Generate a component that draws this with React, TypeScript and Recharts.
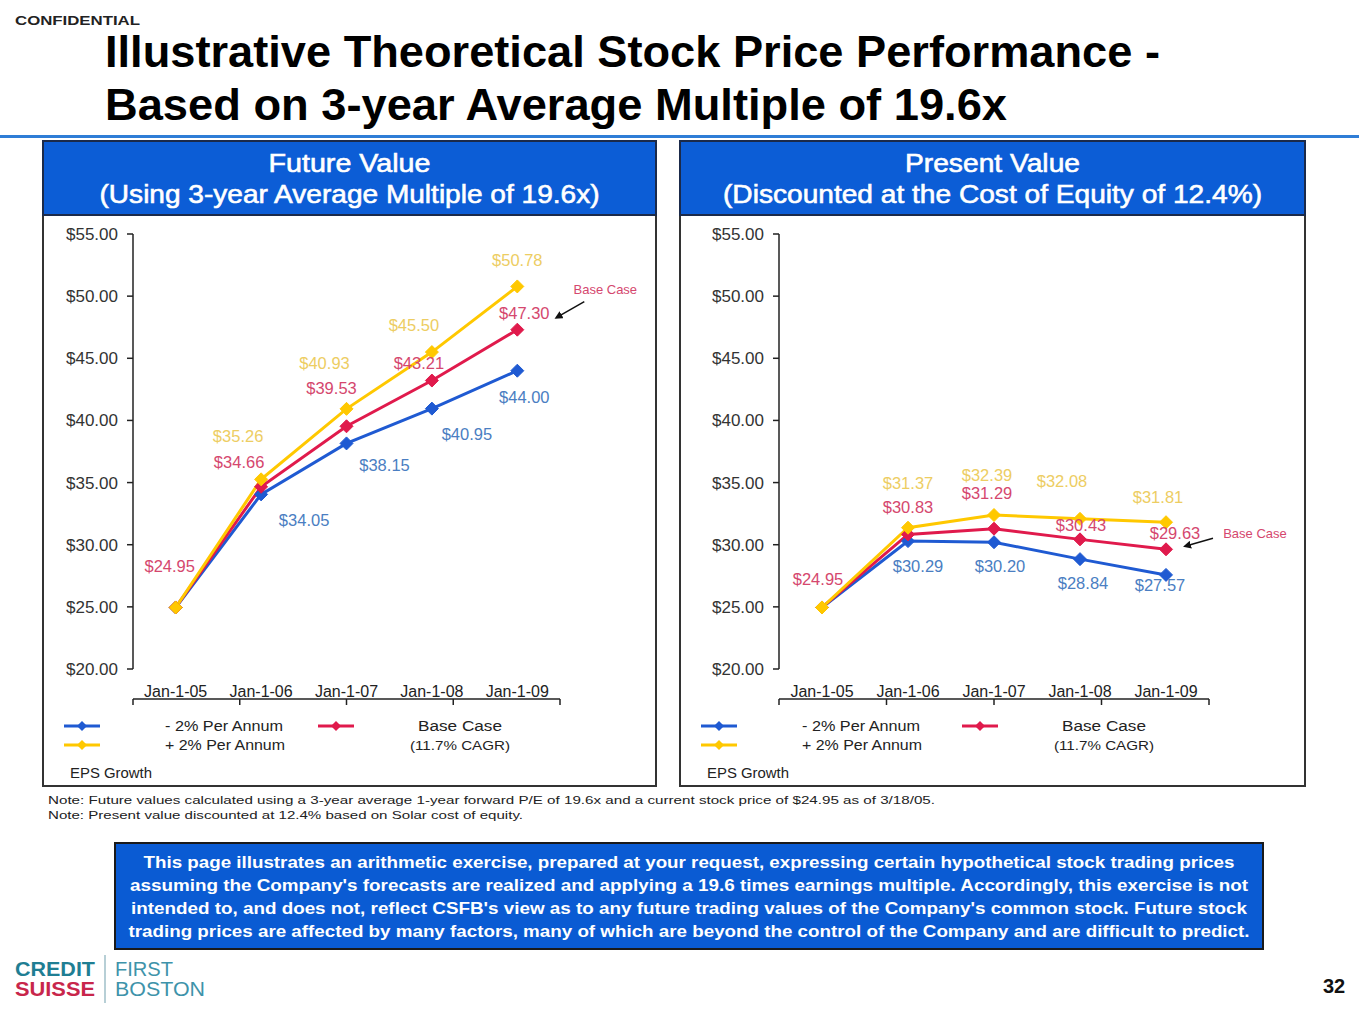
import React from 'react';
import { LineChart, Line, XAxis, YAxis, LabelList } from 'recharts';

// ---------------- DATA ----------------
const categories = ['Jan-1-05', 'Jan-1-06', 'Jan-1-07', 'Jan-1-08', 'Jan-1-09'];
// Future value (3-yr avg multiple 19.6x)
const fvMinus2 = [24.95, 34.05, 38.15, 40.95, 44.0];
const fvBase = [24.95, 34.66, 39.53, 43.21, 47.3];
const fvPlus2 = [24.95, 35.26, 40.93, 45.5, 50.78];
// Present value (discounted at 12.4%)
const pvMinus2 = [24.95, 30.29, 30.2, 28.84, 27.57];
const pvBase = [24.95, 30.83, 31.29, 30.43, 29.63];
const pvPlus2 = [24.95, 31.37, 32.39, 32.08, 31.81];
const yTicks = [20, 25, 30, 35, 40, 45, 50, 55];
const bandEdges = [0, 1, 2, 3, 4, 5];
const seriesLabels = ['- 2% Per Annum', '+ 2% Per Annum', 'Base Case', '(11.7% CAGR)'];

// ---------------- STYLE ----------------
const FONT = '"Liberation Sans", Arial, Helvetica, sans-serif';
const BLUE = '#1F5AD2';
const RED = '#E01A4C';
const YELLOW = '#FFC800';
const BLUE_T = '#4A7EC2';
const RED_T = '#D5476E';
const YELLOW_T = '#EDCD62';
const HEADER = '#0C5DD6';

type Off = [number, number] | null;
const fvOff: Record<string, Off[]> = {
  minus: [null, [43, 26], [38, 22], [35, 25], [7, 26]],
  base: [[-6, -41], [-22, -25], [-15, -38], [-13, -18], [7, -17]],
  plus: [null, [-23, -43], [-22, -46], [-18, -27], [0, -26]],
};
const pvOff: Record<string, Off[]> = {
  minus: [null, [10, 25], [6, 24], [3, 24], [-6, 10]],
  base: [[-4, -28], [0, -27], [-7, -36], [1, -14], [9, -16]],
  plus: [null, [0, -45], [-7, -40], [-18, -38], [-8, -25]],
};
// Base Case annotation relative to the last base-case point
const fvAnnot = { text: [88, -40], from: [67, -28], to: [39, -12] };
const pvAnnot = { text: [89, -16], from: [47, -11], to: [19, -3] };

const buildData = (m: number[], b: number[], p: number[]) =>
  categories.map((c, i) => ({ date: c, minus: m[i], base: b[i], plus: p[i] }));

const fvData = buildData(fvMinus2, fvBase, fvPlus2);
const pvData = buildData(pvMinus2, pvBase, pvPlus2);

const diamond = (color: string, r = 6.5) => (p: any) => {
  const { cx, cy } = p;
  if (cx == null || cy == null) return <g key={p.key ?? p.index} />;
  return (
    <path
      key={p.key ?? `d-${p.index}`}
      d={`M${cx},${cy - r} L${cx + r},${cy} L${cx},${cy + r} L${cx - r},${cy} Z`}
      fill={color}
      stroke={color}
      strokeWidth={1}
    />
  );
};

const makeLabel =
  (offsets: Off[], color: string, annot?: { text: number[]; from: number[]; to: number[] }) =>
  (props: any) => {
    const vb = props.viewBox || {};
    const x = props.x ?? vb.x;
    const y = props.y ?? vb.y;
    const index = props.index;
    const value = Number(props.value);
    const off = offsets[index];
    if (x == null || y == null) return null;
    return (
      <g key={`lbl-${index}`}>
        {off && (
          <text
            x={x + off[0]}
            y={y + off[1]}
            textAnchor="middle"
            dominantBaseline="central"
            fill={color}
            fontSize={16.5}
            fontFamily={FONT}
          >
            {`$${value.toFixed(2)}`}
          </text>
        )}
        {annot && index === offsets.length - 1 && (
          <g>
            <text
              x={x + annot.text[0]}
              y={y + annot.text[1]}
              textAnchor="middle"
              dominantBaseline="central"
              fill={RED_T}
              fontSize={13}
              fontFamily={FONT}
            >
              Base Case
            </text>
            <line
              x1={x + annot.from[0]}
              y1={y + annot.from[1]}
              x2={x + annot.to[0]}
              y2={y + annot.to[1]}
              stroke="#111"
              strokeWidth={1.5}
              markerEnd="url(#arrowHead)"
            />
          </g>
        )}
      </g>
    );
  };

const Chart = ({
  data,
  offsets,
  annot,
  width,
  yWidth,
}: {
  data: any[];
  offsets: Record<string, Off[]>;
  annot: any;
  width: number;
  yWidth: number;
}) => (
  <LineChart width={width} height={571} data={data} margin={{ top: 19, right: 96, bottom: 86, left: 0 }}>
    <defs>
      <marker id="arrowHead" markerWidth="8" markerHeight="8" refX="6" refY="4" orient="auto" markerUnits="userSpaceOnUse">
        <path d="M0,0 L8,4 L0,8 Z" fill="#111" />
      </marker>
    </defs>
    <XAxis
      xAxisId="edges"
      type="number"
      domain={[0, 5]}
      ticks={bandEdges}
      allowDataOverflow
      height={1}
      interval={0}
      tickSize={6}
      tickFormatter={() => ''}
      axisLine={{ stroke: '#222', strokeWidth: 1.5 }}
      tickLine={{ stroke: '#222', strokeWidth: 1.5 }}
    />
    <XAxis
      xAxisId="cat"
      dataKey="date"
      scale="band"
      height={30}
      interval={0}
      axisLine={false}
      tickLine={false}
      tickSize={6}
      tickMargin={11}
      tick={{ fontSize: 16, fill: '#222', fontFamily: FONT }}
    />
    <YAxis
      domain={[20, 55]}
      ticks={yTicks}
      interval={0}
      width={yWidth}
      tickSize={6}
      tickMargin={9}
      tickFormatter={(v: number) => `$${v.toFixed(2)}`}
      tick={{ fontSize: 17, fill: '#333', fontFamily: FONT }}
      axisLine={{ stroke: '#222', strokeWidth: 1.5 }}
      tickLine={{ stroke: '#222', strokeWidth: 1.5 }}
    />
    <Line xAxisId="cat" dataKey="minus" stroke={BLUE} strokeWidth={3} dot={diamond(BLUE)} isAnimationActive={false}>
      <LabelList dataKey="minus" content={makeLabel(offsets.minus, BLUE_T)} />
    </Line>
    <Line xAxisId="cat" dataKey="base" stroke={RED} strokeWidth={3} dot={diamond(RED)} isAnimationActive={false}>
      <LabelList dataKey="base" content={makeLabel(offsets.base, RED_T, annot)} />
    </Line>
    <Line xAxisId="cat" dataKey="plus" stroke={YELLOW} strokeWidth={3} dot={diamond(YELLOW)} isAnimationActive={false}>
      <LabelList dataKey="plus" content={makeLabel(offsets.plus, YELLOW_T)} />
    </Line>
  </LineChart>
);

const LegendIcon = ({ x, y, color }: { x: number; y: number; color: string }) => (
  <g>
    <line x1={x} y1={y} x2={x + 36} y2={y} stroke={color} strokeWidth={3} />
    <path d={`M${x + 18},${y - 5} L${x + 23},${y} L${x + 18},${y + 5} L${x + 13},${y} Z`} fill={color} />
  </g>
);

const PanelLegend = ({ ox, textX, redX, baseX }: { ox: number; textX: number; redX: number; baseX: number }) => (
  <g fontFamily={FONT} fill="#222">
    <LegendIcon x={ox + 21} y={726} color={BLUE} />
    <LegendIcon x={ox + 21} y={745} color={YELLOW} />
    <text x={textX} y={731} fontSize={15.5} textLength={118} lengthAdjust="spacingAndGlyphs">{seriesLabels[0]}</text>
    <text x={textX} y={750} fontSize={15.5} textLength={120} lengthAdjust="spacingAndGlyphs">{seriesLabels[1]}</text>
    <LegendIcon x={redX} y={726} color={RED} />
    <text x={baseX} y={731} fontSize={15.5} textAnchor="middle" textLength={84} lengthAdjust="spacingAndGlyphs">{seriesLabels[2]}</text>
    <text x={baseX} y={750} fontSize={13.5} textAnchor="middle" textLength={100} lengthAdjust="spacingAndGlyphs">{seriesLabels[3]}</text>
    <text x={ox + 27} y={778} fontSize={14} textLength={82} lengthAdjust="spacingAndGlyphs">EPS Growth</text>
  </g>
);

const Panel = ({ x, w, line1, line2, w1, w2 }: any) => (
  <g>
    <rect x={x} y={141} width={w} height={645} fill="#fff" stroke="#333" strokeWidth={2} />
    <rect x={x} y={141} width={w} height={74} fill={HEADER} stroke="#1b2a4a" strokeWidth={2} />
    <text x={x + w / 2} y={172} fill="#fff" fontSize={26} textAnchor="middle" textLength={w1} lengthAdjust="spacingAndGlyphs" fontFamily={FONT} stroke="#fff" strokeWidth={0.6}>
      {line1}
    </text>
    <text x={x + w / 2} y={203} fill="#fff" fontSize={26} textAnchor="middle" textLength={w2} lengthAdjust="spacingAndGlyphs" fontFamily={FONT} stroke="#fff" strokeWidth={0.6}>
      {line2}
    </text>
  </g>
);

const disclaimer = [
  'This page illustrates an arithmetic exercise, prepared at your request, expressing certain hypothetical stock trading prices',
  "assuming the Company's forecasts are realized and applying a 19.6 times earnings multiple. Accordingly, this exercise is not",
  "intended to, and does not, reflect CSFB's view as to any future trading values of the Company's common stock. Future stock",
  'trading prices are affected by many factors, many of which are beyond the control of the Company and are difficult to predict.',
];
const disclaimerWidths = [1091, 1118, 1116, 1121];

export default function App() {
  return (
    <div style={{ position: 'absolute', left: 0, top: 0, width: 1359, height: 1020, background: '#fff', overflow: 'hidden' }}>
      <svg width={1359} height={1020} style={{ position: 'absolute', left: 0, top: 0 }} fontFamily={FONT}>
        <text x={15} y={25} fontSize={13} fontWeight="bold" fill="#222" textLength={125} lengthAdjust="spacingAndGlyphs">CONFIDENTIAL</text>
        <text x={105} y={67} fontSize={45} fontWeight="bold" fill="#000" textLength={1055} lengthAdjust="spacingAndGlyphs">
          Illustrative Theoretical Stock Price Performance -
        </text>
        <text x={105} y={120} fontSize={45} fontWeight="bold" fill="#000" textLength={902} lengthAdjust="spacingAndGlyphs">
          Based on 3-year Average Multiple of 19.6x
        </text>
        <rect x={0} y={135} width={1359} height={3} fill="#2F7DD6" />

        <Panel x={43} w={613} line1="Future Value" line2="(Using 3-year Average Multiple of 19.6x)" w1={162} w2={500} />
        <Panel x={680} w={625} line1="Present Value" line2="(Discounted at the Cost of Equity of 12.4%)" w1={175} w2={539} />

        <PanelLegend ox={43} textX={165} redX={318} baseX={460} />
        <PanelLegend ox={680} textX={802} redX={962} baseX={1104} />

        <text x={48} y={804} fontSize={11} fill="#222" textLength={887} lengthAdjust="spacingAndGlyphs">
          Note: Future values calculated using a 3-year average 1-year forward P/E of 19.6x and a current stock price of $24.95 as of 3/18/05.
        </text>
        <text x={48} y={819} fontSize={11} fill="#222" textLength={475} lengthAdjust="spacingAndGlyphs">
          Note: Present value discounted at 12.4% based on Solar cost of equity.
        </text>

        <rect x={115} y={843} width={1148} height={106} fill="#0A5BD3" stroke="#1a1a1a" strokeWidth={2} />
        {disclaimer.map((t, i) => (
          <text
            key={i}
            x={689}
            y={868 + i * 23}
            fontSize={16}
            fontWeight="bold"
            fill="#fff"
            textAnchor="middle"
            textLength={disclaimerWidths[i]}
            lengthAdjust="spacingAndGlyphs"
          >
            {t}
          </text>
        ))}

        <text x={15} y={976} fontSize={20} fontWeight="bold" fill="#1F7E93" textLength={80} lengthAdjust="spacingAndGlyphs">CREDIT</text>
        <text x={15} y={996} fontSize={20} fontWeight="bold" fill="#C8264B" textLength={80} lengthAdjust="spacingAndGlyphs">SUISSE</text>
        <line x1={105} y1={955} x2={105} y2={1003} stroke="#9fbfc8" strokeWidth={1.5} />
        <text x={115} y={976} fontSize={20} fill="#3E93AA" textLength={58} lengthAdjust="spacingAndGlyphs">FIRST</text>
        <text x={115} y={996} fontSize={20} fill="#3E93AA" textLength={90} lengthAdjust="spacingAndGlyphs">BOSTON</text>
        <text x={1323} y={993} fontSize={20} fontWeight="bold" fill="#111">32</text>
      </svg>

      <div style={{ position: 'absolute', left: 43, top: 215 }}>
        <Chart data={fvData} offsets={fvOff} annot={fvAnnot} width={613} yWidth={90} />
      </div>
      <div style={{ position: 'absolute', left: 680, top: 215 }}>
        <Chart data={pvData} offsets={pvOff} annot={pvAnnot} width={625} yWidth={99} />
      </div>
    </div>
  );
}
